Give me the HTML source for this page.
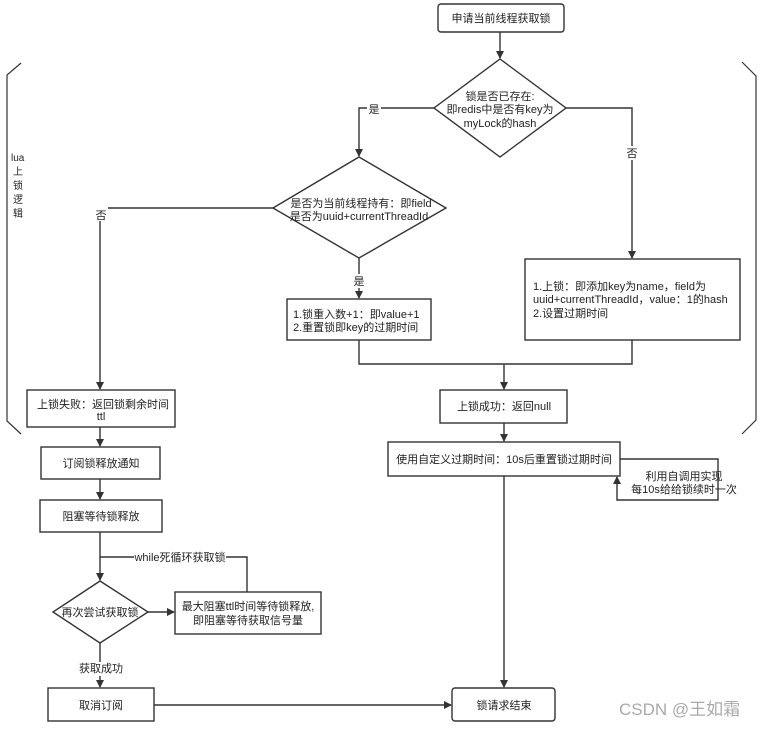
<!DOCTYPE html>
<html><head><meta charset="utf-8"><style>
html,body{margin:0;padding:0;background:#fff}
svg text{font-family:"Liberation Sans","Noto Sans CJK SC",sans-serif;font-size:11px;fill:#222}
</style></head><body>
<svg width="764" height="726" viewBox="0 0 764 726" xmlns="http://www.w3.org/2000/svg">
<defs><marker id="a" markerWidth="8" markerHeight="8" refX="7" refY="4" orient="auto" markerUnits="userSpaceOnUse"><path d="M0,0 L8,4 L0,8 z" fill="#333"/></marker></defs>
<g fill="none" stroke="#333" stroke-width="1.4">
<!-- brackets -->
<path d="M21,63 L7,75 L7,421 L21,434" stroke-width="1.2"/>
<path d="M742,62 L756,76 L756,420 L742,434" stroke-width="1.2"/>
<!-- top box -->
<rect x="438" y="4" width="126" height="28" rx="3"/>
<path d="M500,32 L500,58" marker-end="url(#a)"/>
<polygon points="500,59 566,108 500,157 434,108"/>
<path d="M434,108 L359,108 L359,156" marker-end="url(#a)"/>
<path d="M566,108 L632,108 L632,258" marker-end="url(#a)"/>
<polygon points="359,157 446,208 359,258 273,208"/>
<path d="M273,208 L100,208 L100,389" marker-end="url(#a)"/>
<path d="M359,258 L359,298" marker-end="url(#a)"/>
<rect x="287" y="299" width="144" height="41"/>
<rect x="525" y="259" width="215" height="81"/>
<path d="M359,340 L359,364 L632,364 L632,340"/>
<path d="M504,364 L504,389" marker-end="url(#a)"/>
<rect x="440" y="390" width="127" height="33"/>
<path d="M504,423 L504,441" marker-end="url(#a)"/>
<rect x="388" y="442" width="232" height="34"/>
<path d="M620,459 L718,459 L718,500 L617,500 L617,477" marker-end="url(#a)"/>
<path d="M504,476 L504,687" marker-end="url(#a)"/>
<rect x="452" y="688" width="103" height="33" rx="3"/>
<!-- left column -->
<rect x="27" y="390" width="148" height="37"/>
<path d="M100,427 L100,446" marker-end="url(#a)"/>
<rect x="41" y="447" width="119" height="32"/>
<path d="M100,479 L100,499" marker-end="url(#a)"/>
<rect x="40" y="500" width="122" height="32"/>
<path d="M100,532 L100,580" marker-end="url(#a)"/>
<path d="M247,592 L247,557 L100,557"/>
<polygon points="100,581 148,612 100,643 53,612"/>
<path d="M148,612 L174,612" marker-end="url(#a)"/>
<rect x="175" y="592" width="146" height="42"/>
<path d="M100,643 L100,687" marker-end="url(#a)"/>
<rect x="48" y="688" width="106" height="33"/>
<path d="M154,705 L451,705" marker-end="url(#a)"/>
</g>
<g>
<rect x="134" y="551" width="92" height="12" fill="#fff"/>
<rect x="367" y="102" width="14" height="13" fill="#fff"/>
<rect x="625" y="146" width="14" height="14" fill="#fff"/>
<rect x="94" y="207" width="14" height="14" fill="#fff"/>
<rect x="352" y="274" width="14" height="14" fill="#fff"/>
<rect x="77" y="662" width="48" height="14" fill="#fff"/>
</g>
<g text-anchor="middle">
<text x="501" y="22">申请当前线程获取锁</text>
<text x="500" y="100">锁是否已存在:</text>
<text x="500" y="113">即redis中是否有key为</text>
<text x="500" y="127">myLock的hash</text>
<text x="374" y="113">是</text>
<text x="632" y="157">否</text>
<text x="361" y="207">是否为当前线程持有：即field</text>
<text x="359" y="220">是否为uuid+currentThreadId</text>
<text x="101" y="219">否</text>
<text x="359" y="285">是</text>
<text x="103" y="408">上锁失败：返回锁剩余时间</text>
<text x="101" y="420">ttl</text>
<text x="101" y="467">订阅锁释放通知</text>
<text x="101" y="520">阻塞等待锁释放</text>
<text x="180" y="561">while死循环获取锁</text>
<text x="100" y="616">再次尝试获取锁</text>
<text x="248" y="610">最大阻塞ttl时间等待锁释放,</text>
<text x="248" y="624">即阻塞等待获取信号量</text>
<text x="101" y="672">获取成功</text>
<text x="101" y="709">取消订阅</text>
<text x="504" y="410">上锁成功：返回null</text>
<text x="504" y="463">使用自定义过期时间：10s后重置锁过期时间</text>
<text x="684" y="480">利用自调用实现</text>
<text x="684" y="493">每10s给给锁续时一次</text>
<text x="504" y="709">锁请求结束</text>
</g>
<g>
<text x="293" y="318">1.锁重入数+1：即value+1</text>
<text x="293" y="331">2.重置锁即key的过期时间</text>
<text x="533" y="290">1.上锁：即添加key为name，field为</text>
<text x="533" y="303">uuid+currentThreadId，value：1的hash</text>
<text x="533" y="317">2.设置过期时间</text>
</g>
<g style="font-size:10px">
<text x="11" y="161" style="font-size:10px">lua</text>
<text x="13" y="175" style="font-size:10px">上</text>
<text x="13" y="189" style="font-size:10px">锁</text>
<text x="13" y="203" style="font-size:10px">逻</text>
<text x="13" y="217" style="font-size:10px">辑</text>
</g>
<text x="619" y="715" style="font-size:17px;fill:#aaa">CSDN @王如霜</text>
</svg>
</body></html>
